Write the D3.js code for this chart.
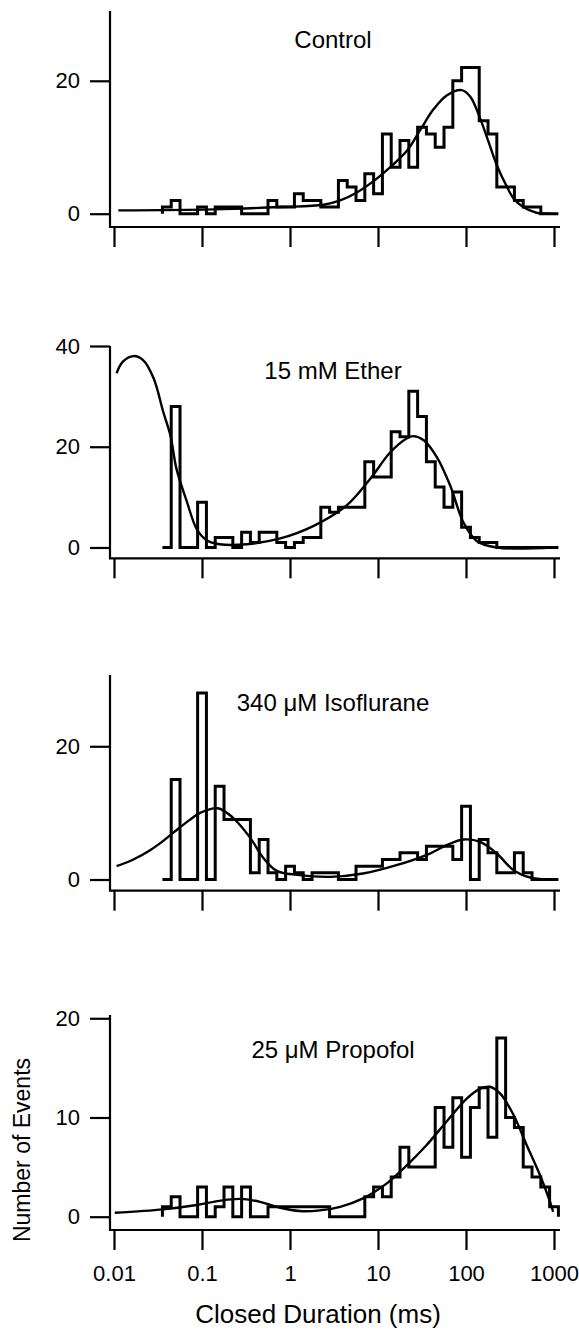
<!DOCTYPE html>
<html>
<head>
  <meta charset="utf-8">
  <script src="https://cdn.jsdelivr.net/npm/d3@7"></script>
  <style>
    body { margin: 0; background: #fff; }
    svg { display: block; font-family: "Liberation Sans", Arial, Helvetica, sans-serif; }
  </style>
</head>
<body>
<script>
  "use strict";

  // ---- data ----
  var xTickValues = [0.01, 0.1, 1, 10, 100, 1000];
  var xTickLabels = ["0.01", "0.1", "1", "10", "100", "1000"];
  var panelTitles = ["Control", "15 mM Ether", "340 \u03bcM Isoflurane", "25 \u03bcM Propofol"];
  var yTickValues = [[0, 20], [0, 20, 40], [0, 20], [0, 10, 20]];

  // histogram: 10 log bins per decade, first bin starts at 0.0355 ms
  var binsPerDecade = 10;
  var binEdgeStart = 0.0355;

  var controlCounts  = [1,2,0,0,1,0,1,1,1,0,0,0,2,1,1,3,2,2,1,1,5,4,2,6,3,12,7,11,7,13,12,10,13,20,22,22,14,12,4,4,2,1,1,0,0];
  var etherCounts    = [0,28,0,0,9,0,2,2,0,3,1,3,3,1,0,1,2,2,8,7,8,8,8,17,14,14,23,22,31,26,17,12,8,11,4,2,1,1,0,0,0,0,0,0,0];
  var isoCounts      = [0,15,0,0,28,0,14,9,9,9,1,6,1,0,2,1,0,1,1,1,0,0,2,2,2,3,3,4,4,3,5,5,5,3,11,0,6,4,1,1,4,1,0,0,0];
  var propofolCounts = [1,2,0,0,3,0,1,3,0,3,0,0,1,1,1,1,1,1,1,0,0,0,0,2,3,2,4,7,5,5,5,11,7,12,6,11,13,8,18,10,9,5,4,3,1];

  // fitted curves, [duration ms, events]
  var controlFit = [[0.0112,0.5],[0.135,0.65],[0.776,1.0],[2.40,1.35],[3.72,2.0],[5.75,3.2],[8.91,4.9],
    [13.8,7.0],[21.4,9.5],[30.2,12.6],[42.7,15.7],[60.3,17.8],[89.1,18.6],[112,17.6],[145,14.3],
    [174,11.4],[224,7.3],[288,4.2],[347,2.3],[447,1.0],[631,0.15],[912,0]];
  var etherFit = [[0.0107,34.6],[0.0126,36.9],[0.0166,38.0],[0.0214,37.2],[0.0282,33.6],[0.0363,26.9],
    [0.0437,22.3],[0.0513,15.6],[0.0676,9.0],[0.0871,3.65],[0.112,1.5],[0.158,0.65],[0.324,0.65],
    [0.776,1.8],[1.86,4.3],[4.37,8.3],[8.13,13.6],[13.8,18.9],[21.4,21.7],[25.1,22.1],[33.1,21.3],
    [46.8,17.9],[66.1,12.3],[93.3,5.0],[132,1.3],[224,0],[977,0]];
  var isoFit = [[0.0107,2.0],[0.0166,3.0],[0.0257,4.4],[0.0363,5.8],[0.049,7.2],[0.07,8.8],
    [0.0955,10.0],[0.151,10.7],[0.224,9.3],[0.347,6.4],[0.501,3.2],[0.708,1.3],[1.2,0.7],[2.88,0.4],
    [6.76,0.9],[16.2,2.15],[38.9,3.9],[60.3,5.15],[93.3,6.0],[145,5.65],[224,3.9],[347,1.4],
    [537,0.3],[832,0]];
  var propofolFit = [[0.0102,0.4],[0.0363,0.74],[0.0871,1.18],[0.158,1.6],[0.269,1.8],[0.457,1.5],
    [0.776,0.9],[1.29,0.57],[2.19,0.64],[3.72,1.0],[6.76,1.85],[12.6,3.36],[21.4,5.2],[35.5,7.2],
    [60.3,9.6],[102,11.9],[145,12.9],[186,13.1],[245,12.4],[347,10.25],[490,7.2],[692,4.2],
    [902,1.5],[977,0.5]];

  var panelCounts = [controlCounts, etherCounts, isoCounts, propofolCounts];
  var panelFits = [controlFit, etherFit, isoFit, propofolFit];

  // ---- layout ----
  var width = 579, height = 1330;
  var axisX = 110;
  var layout = [
    {top: 11,   bottom: 227,   yMin: -2.0,  yMax: 30.5,  titleY: 48},
    {top: 346,  bottom: 558.3, yMin: -2.15, yMax: 40,    titleY: 379},
    {top: 675,  bottom: 890.7, yMin: -1.68, yMax: 30.7,  titleY: 711},
    {top: 1015, bottom: 1230,  yMin: -1.34, yMax: 20.33, titleY: 1058}
  ];

  var svg = d3.select("body").append("svg")
    .attr("width", width)
    .attr("height", height);

  svg.append("rect").attr("width", width).attr("height", height).attr("fill", "#fff");

  var x = d3.scaleLog().domain([0.01, 1000]).range([114, 554]);

  layout.forEach(function (p, i) {
    var y = d3.scaleLinear().domain([p.yMin, p.yMax]).range([p.bottom, p.top]);
    var g = svg.append("g");

    // y axis
    var ya = g.append("g")
      .attr("transform", "translate(" + axisX + ",0)")
      .call(d3.axisLeft(y).tickValues(yTickValues[i]).tickSize(20).tickPadding(10).tickFormat(d3.format("d")));
    ya.select(".domain").remove();
    ya.selectAll(".tick line").attr("stroke", "#000").attr("stroke-width", 2.2);
    ya.selectAll(".tick text").attr("fill", "#000").style("font-size", "22px");

    // x axis
    var last = i === layout.length - 1;
    var xa = g.append("g")
      .attr("transform", "translate(0," + p.bottom + ")")
      .call(d3.axisBottom(x).tickValues(xTickValues).tickSize(20).tickPadding(15)
        .tickFormat(function (d, k) { return last ? xTickLabels[k] : ""; }));
    xa.select(".domain").remove();
    xa.selectAll(".tick line").attr("stroke", "#000").attr("stroke-width", 2.2);
    xa.selectAll(".tick text").attr("fill", "#000").style("font-size", "22px");

    // axis lines
    g.append("path")
      .attr("d", "M" + axisX + "," + p.top + "V" + p.bottom + "H560")
      .attr("fill", "none")
      .attr("stroke", "#000")
      .attr("stroke-width", 2.2);

    // histogram outline
    var counts = panelCounts[i];
    var edges = d3.range(counts.length + 1).map(function (k) {
      return binEdgeStart * Math.pow(10, k / binsPerDecade);
    });
    var pts = [[edges[0], 0]];
    counts.forEach(function (c, k) {
      pts.push([edges[k], c], [edges[k + 1], c]);
    });
    pts.push([edges[counts.length], 0]);

    g.append("path")
      .datum(pts)
      .attr("d", d3.line().x(function (d) { return x(d[0]); }).y(function (d) { return y(d[1]); }))
      .attr("fill", "none")
      .attr("stroke", "#000")
      .attr("stroke-width", 3)
      .attr("stroke-linejoin", "miter");

    // fitted curve
    g.append("path")
      .datum(panelFits[i])
      .attr("d", d3.line().curve(d3.curveCatmullRom.alpha(0.5))
        .x(function (d) { return x(d[0]); }).y(function (d) { return y(d[1]); }))
      .attr("fill", "none")
      .attr("stroke", "#000")
      .attr("stroke-width", 2.4);

    // title
    g.append("text")
      .attr("x", 333)
      .attr("y", p.titleY)
      .attr("text-anchor", "middle")
      .style("font-size", "24px")
      .text(panelTitles[i]);
  });

  svg.append("text")
    .attr("x", 318)
    .attr("y", 1323)
    .attr("text-anchor", "middle")
    .style("font-size", "26px")
    .text("Closed Duration (ms)");

  svg.append("text")
    .attr("transform", "translate(30,1150) rotate(-90)")
    .attr("text-anchor", "middle")
    .style("font-size", "23px")
    .text("Number of Events");
</script>
</body>
</html>
